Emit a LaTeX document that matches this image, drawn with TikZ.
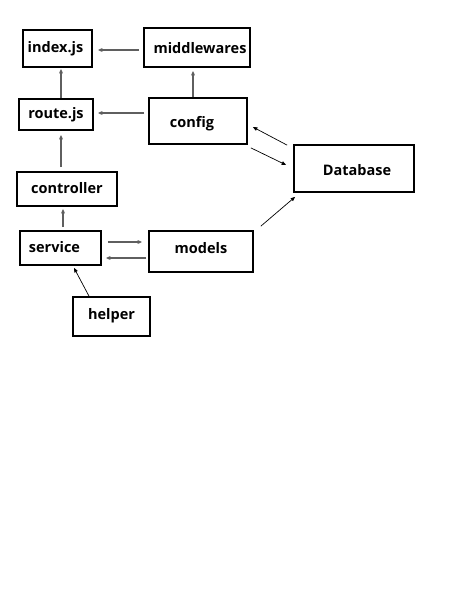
\documentclass[tikz,border=0pt]{standalone}
\usepackage{fontspec}
\setmainfont{Open Sans}
\usetikzlibrary{arrows.meta}
\definecolor{arrgray}{RGB}{95,95,95}
\begin{document}
\begin{tikzpicture}[x=1pt,y=-1pt,
  box/.style={draw=black,line width=1.7pt,rectangle,inner sep=0pt},
  lbl/.style={font=\fontsize{14.5}{16}\selectfont\bfseries,inner sep=0pt},
  arr/.style={draw=arrgray,line width=1.1pt,-{Triangle[length=4.5pt,width=3.6pt]}},
  darr/.style={draw=black,line width=0.7pt,-{Triangle[length=4.5pt,width=3.6pt]}}]
\useasboundingbox[fill=white] (0,0) rectangle (463,592);
% boxes
\node[box,minimum width=69pt,minimum height=37pt] (index) at (57.5,48.5) {};
\node[box,minimum width=106pt,minimum height=39pt] (mw) at (197,47.5) {};
\node[box,minimum width=74pt,minimum height=31pt] (route) at (56,114.5) {};
\node[box,minimum width=98pt,minimum height=46pt] (config) at (198,121) {};
\node[box,minimum width=120pt,minimum height=47pt] (db) at (354,168.5) {};
\node[box,minimum width=100pt,minimum height=34pt] (ctrl) at (67,189) {};
\node[box,minimum width=81pt,minimum height=34pt] (service) at (60.5,248) {};
\node[box,minimum width=104pt,minimum height=41pt] (models) at (201,251.5) {};
\node[box,minimum width=77pt,minimum height=39pt] (helper) at (111.5,316.5) {};
% labels
\node[lbl] (tindex) at (55.5,48.5) {index.js};
\node[lbl] (tmw) at (200,48) {middlewares};
\node[lbl] (troute) at (56,115) {route.js};
\node[lbl] (tconfig) at (192,123.5) {config};
\node[lbl] (tdb) at (357,170) {Database};
\node[lbl] (tctrl) at (67,188) {controller};
\node[lbl] (tservice) at (54.5,247.5) {service};
\node[lbl] (tmodels) at (201,248.5) {models};
\node[lbl] (thelper) at (111.5,316) {helper};
% straight arrows
\draw[arr,shorten <=4pt,shorten >=5pt] (mw.west |- 0,50) -- (index.east |- 0,50);
\draw[arr,shorten >=1pt] (route.north -| 61,0) -- (index.south -| 61,0);
\draw[arr,shorten >=3pt] (config.north -| 193,0) -- (mw.south -| 193,0);
\draw[arr,shorten <=4pt,shorten >=4pt] (config.west |- 0,113) -- (route.east |- 0,113);
\draw[arr,shorten <=4pt,shorten >=4pt] (ctrl.north -| 61,0) -- (route.south -| 61,0);
\draw[arr,shorten <=3pt,shorten >=2pt] (service.north -| 63,0) -- (ctrl.south -| 63,0);
\draw[arr,shorten <=6pt,shorten >=6pt] (service.east |- 0,242) -- (models.west |- 0,242);
\draw[arr,shorten <=2pt,shorten >=4pt] (models.west |- 0,258) -- (service.east |- 0,258);
% diagonal arrows
\draw[darr] ([xshift=-22.5pt]helper.north) -- ([xshift=13.5pt,yshift=-2pt]service.south);
\draw[darr] ([xshift=-6pt,yshift=-1pt]db.north west) -- ([xshift=5pt,yshift=-6pt]config.east);
\draw[darr] ([xshift=3pt,yshift=-3pt]config.south east) -- ([xshift=-7pt,yshift=3.5pt]db.west);
\draw[darr] ([xshift=7pt,yshift=4pt]models.north east) -- ([xshift=2pt,yshift=-4pt]db.south west);
\end{tikzpicture}
\end{document}
